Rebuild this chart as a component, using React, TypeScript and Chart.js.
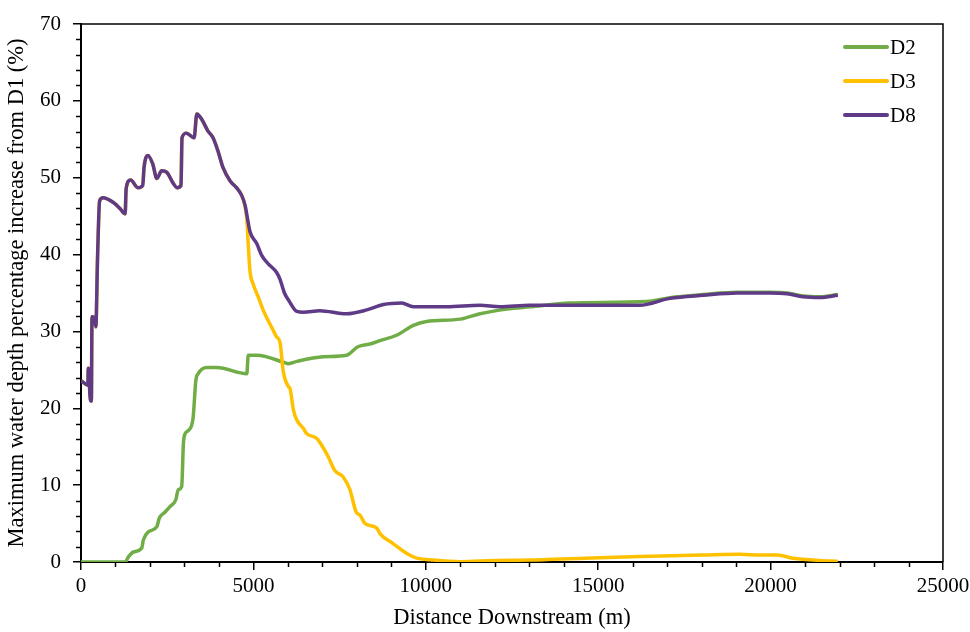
import React, { useEffect, useRef } from 'react';
import { Chart, registerables } from 'chart.js';

Chart.register(...registerables);

const FONT = "'Liberation Serif', 'Times New Roman', serif";

const seriesNames = ['D2', 'D3', 'D8'];
const seriesColors = ['#70AD47', '#FFC000', '#5E3A87'];

const xTicks = [0, 5000, 10000, 15000, 20000, 25000];
const yTicks = [0, 10, 20, 30, 40, 50, 60, 70];

const d2X = [0, 1280, 1380, 1520, 1760, 1810, 1950, 2200, 2270, 2440, 2580, 2750, 2820, 2920, 2970, 3010, 3110, 3250, 3330, 3400, 3650, 3940, 4810, 4850, 5100, 5870, 6020, 6260, 7030, 7700, 8030, 8410, 8670, 9150, 9640, 10020, 11000, 11570, 12350, 13020, 14180, 16400, 17080, 18040, 19030, 19980, 20480, 20940, 21430, 21950];
const d2Y = [0, 0, 0.7, 1.3, 1.8, 2.9, 3.9, 4.6, 5.7, 6.5, 7.2, 8.1, 9.4, 9.8, 15.4, 16.6, 17.1, 18.7, 23.6, 24.5, 25.3, 25.3, 24.5, 26.9, 26.9, 26.0, 25.8, 26.1, 26.7, 26.9, 28.0, 28.4, 28.8, 29.5, 30.8, 31.3, 31.6, 32.3, 32.9, 33.2, 33.7, 33.9, 34.4, 34.8, 35.1, 35.1, 35.0, 34.6, 34.5, 34.8];

const d8X = [0, 120, 200, 210, 240, 250, 300, 320, 400, 430, 480, 540, 640, 930, 1130, 1280, 1310, 1440, 1650, 1790, 1830, 1940, 2080, 2200, 2340, 2490, 2670, 2790, 2900, 2930, 3060, 3280, 3360, 3500, 3680, 3830, 3970, 4120, 4320, 4510, 4660, 4760, 4805, 4900, 5100, 5240, 5430, 5670, 5770, 5900, 6030, 6260, 6450, 6930, 7700, 8290, 8770, 9300, 9640, 10600, 11570, 12150, 13020, 14500, 16200, 17080, 18040, 19030, 19980, 20480, 20940, 21430, 21950];
const d8Y = [23.6, 23.2, 23.0, 25.2, 25.0, 22.5, 20.9, 31.9, 31.6, 30.6, 39.6, 47.0, 47.4, 46.8, 46.0, 45.3, 48.6, 49.7, 48.7, 49.0, 51.4, 52.9, 51.8, 49.9, 50.9, 50.7, 49.3, 48.7, 49.0, 55.2, 55.8, 55.2, 58.3, 57.6, 56.1, 55.2, 53.5, 51.3, 49.6, 48.7, 47.7, 46.4, 45.3, 43.0, 41.4, 39.9, 38.8, 37.7, 36.8, 35.0, 34.0, 32.6, 32.5, 32.7, 32.3, 32.8, 33.5, 33.7, 33.2, 33.2, 33.4, 33.2, 33.4, 33.4, 33.4, 34.3, 34.7, 35.0, 35.0, 34.9, 34.5, 34.4, 34.7];

const d3X = [0, 120, 200, 210, 240, 250, 300, 320, 400, 430, 480, 540, 640, 930, 1130, 1280, 1310, 1440, 1650, 1790, 1830, 1940, 2080, 2200, 2340, 2490, 2670, 2790, 2900, 2930, 3060, 3280, 3360, 3500, 3680, 3830, 3970, 4120, 4320, 4510, 4660, 4760, 4805, 4850, 4900, 4990, 5140, 5290, 5430, 5580, 5670, 5770, 5870, 6020, 6060, 6160, 6255, 6447, 6545, 6830, 6980, 7170, 7360, 7600, 7800, 7980, 8090, 8240, 8580, 8670, 9050, 9450, 9740, 10120, 11000, 11960, 13020, 14600, 16200, 18040, 19120, 19700, 20190, 20650, 21430, 21950];
const d3Y = [23.6, 23.2, 23.0, 25.2, 25.0, 22.5, 20.9, 31.9, 31.6, 30.6, 39.6, 47.0, 47.4, 46.8, 46.0, 45.3, 48.6, 49.7, 48.7, 49.0, 51.4, 52.9, 51.8, 49.9, 50.9, 50.7, 49.3, 48.7, 49.0, 55.2, 55.8, 55.2, 58.3, 57.6, 56.1, 55.2, 53.5, 51.3, 49.6, 48.7, 47.7, 46.2, 44.8, 41.4, 37.9, 36.2, 34.5, 32.7, 31.4, 30.1, 29.3, 28.6, 24.7, 22.8, 22.6, 19.8, 18.5, 17.4, 16.7, 16.1, 15.2, 13.7, 11.9, 11.1, 9.4, 6.5, 6.1, 5.0, 4.4, 3.7, 2.4, 1.1, 0.5, 0.3, 0.04, 0.2, 0.26, 0.5, 0.7, 0.9, 1.0, 0.9, 0.9, 0.5, 0.2, 0.1];

const xs = [d2X, d3X, d8X];
const ys = [d2Y, d3Y, d8Y];

const frameAndTicks = {
  id: 'frameAndTicks',
  afterDraw(chart: any) {
    const { ctx, chartArea } = chart;
    const xs_ = chart.scales.x;
    const ys_ = chart.scales.y;
    ctx.save();
    ctx.strokeStyle = '#000';
    ctx.lineWidth = 1.5;
    ctx.beginPath();
    ctx.moveTo(chartArea.left, chartArea.top);
    ctx.lineTo(chartArea.right, chartArea.top);
    ctx.lineTo(chartArea.right, chartArea.bottom);
    ctx.stroke();
    ctx.beginPath();
    for (let v = 0; v <= 25000; v += 1000) {
      if (v % 5000 === 0) continue;
      const px = Math.round(xs_.getPixelForValue(v)) + 0.5;
      ctx.moveTo(px, chartArea.bottom);
      ctx.lineTo(px, chartArea.bottom + 5);
    }
    for (let v = 0; v <= 70; v += 2) {
      if (v % 10 === 0) continue;
      const py = Math.round(ys_.getPixelForValue(v)) + 0.5;
      ctx.moveTo(chartArea.left, py);
      ctx.lineTo(chartArea.left - 5, py);
    }
    ctx.stroke();
    ctx.font = `21px ${FONT}`;
    ctx.textBaseline = 'middle';
    ctx.textAlign = 'left';
    chart.data.datasets.forEach((ds: any, i: number) => {
      const y = chartArea.top + 23 + i * 34;
      const x0 = chartArea.right - 98;
      ctx.strokeStyle = ds.borderColor;
      ctx.lineWidth = 4;
      ctx.lineCap = 'round';
      ctx.beginPath();
      ctx.moveTo(x0, y);
      ctx.lineTo(x0 + 42, y);
      ctx.stroke();
      ctx.fillStyle = '#000';
      ctx.fillText(ds.label, x0 + 45, y + 1);
    });
    ctx.restore();
  },
};

export default function App() {
  const ref = useRef<HTMLCanvasElement>(null);
  useEffect(() => {
    if (!ref.current) return;
    const datasets = seriesNames.map((name, i) => ({
      label: name,
      data: xs[i].map((x, j) => ({ x, y: ys[i][j] })),
      borderColor: seriesColors[i],
      backgroundColor: seriesColors[i],
      borderWidth: 3.5,
      pointRadius: 0,
      cubicInterpolationMode: 'monotone' as const,
      fill: false,
      order: 3 - i,
    }));
    const chart = new Chart(ref.current, {
      type: 'line',
      data: { datasets },
      options: {
        animation: false,
        responsive: false,
        maintainAspectRatio: false,
        layout: { padding: { top: 24, right: 27, left: 0, bottom: 0 } },
        plugins: { legend: { display: false }, tooltip: { enabled: false } },
        scales: {
          x: {
            type: 'linear',
            min: 0,
            max: 25000,
            afterBuildTicks: (s: any) => { s.ticks = xTicks.map((v) => ({ value: v })); },
            afterFit: (s: any) => { s.height = 70; s.paddingRight = 0; s.paddingLeft = 0; },
            grid: { drawOnChartArea: false, drawTicks: true, tickLength: 8, color: '#000', lineWidth: 1.5 },
            border: { color: '#000', width: 2 },
            ticks: { color: '#000', font: { family: FONT, size: 21 }, padding: 4, maxRotation: 0, callback: (v: any) => String(v) },
            title: { display: true, text: 'Distance Downstream (m)', color: '#000', font: { family: FONT, size: 22.5 }, padding: { top: 2, bottom: 0 } },
          },
          y: {
            type: 'linear',
            min: 0,
            max: 70,
            afterBuildTicks: (s: any) => { s.ticks = yTicks.map((v) => ({ value: v })); },
            afterFit: (s: any) => { s.width = 81; s.paddingTop = 0; s.paddingBottom = 0; },
            grid: { drawOnChartArea: false, drawTicks: true, tickLength: 8, color: '#000', lineWidth: 1.5 },
            border: { color: '#000', width: 2 },
            ticks: { color: '#000', font: { family: FONT, size: 21 }, padding: 12, callback: (v: any) => String(v) },
            title: { display: true, text: 'Maximum water depth percentage increase from D1 (%)', color: '#000', font: { family: FONT, size: 22.5 }, padding: { top: 4, bottom: 4 } },
          },
        },
      },
      plugins: [frameAndTicks],
    });
    return () => chart.destroy();
  }, []);
  return (
    <div style={{ position: 'fixed', left: 0, top: 0, width: 970, height: 632, background: '#fff' }}>
      <canvas ref={ref} width={970} height={632} style={{ width: 970, height: 632 }} />
    </div>
  );
}
